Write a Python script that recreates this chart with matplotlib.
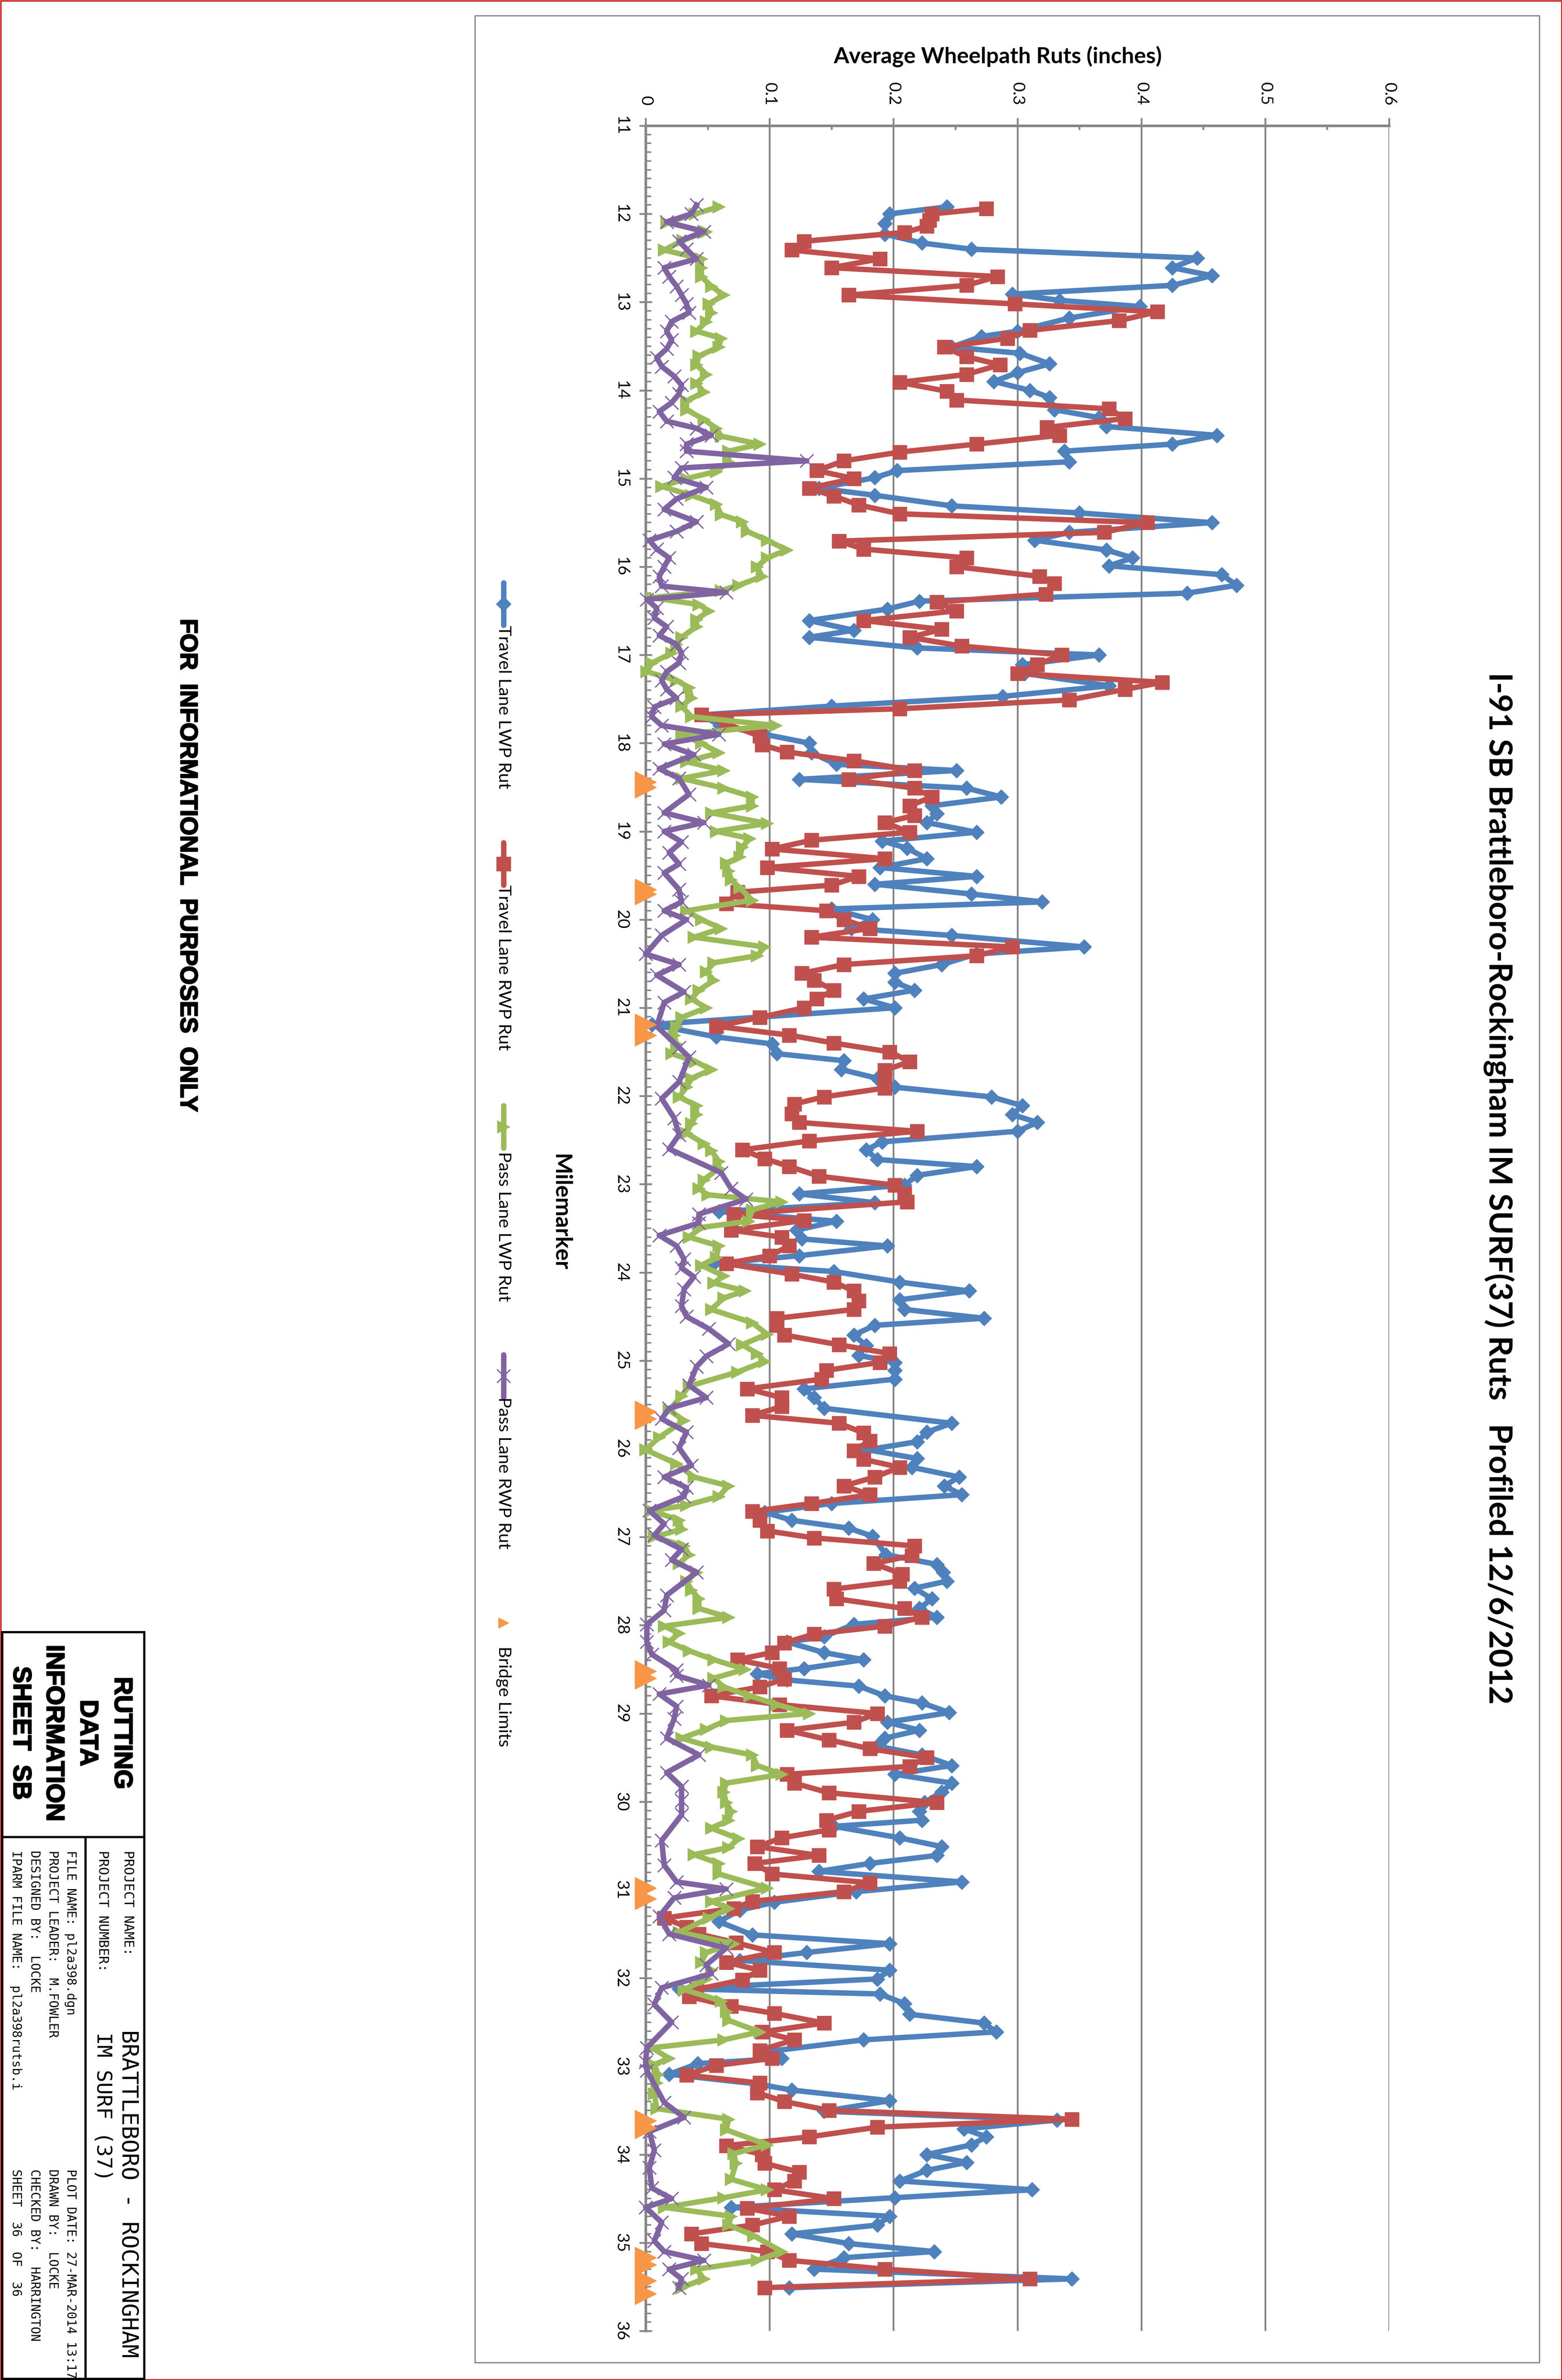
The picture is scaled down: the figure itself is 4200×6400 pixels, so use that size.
import matplotlib
matplotlib.use("Agg")
import matplotlib.pyplot as plt
import matplotlib.patheffects as pe
from matplotlib.lines import Line2D
from matplotlib.patches import Rectangle
from matplotlib.transforms import Affine2D
import numpy as np

W, H = 4200, 6400

# ---- data ----
travelLwpMile = [11.92, 12.00, 12.11, 12.23, 12.33, 12.40, 12.50, 12.61, 12.70, 12.81,
                 12.91, 12.98, 13.05, 13.18, 13.33, 13.39, 13.51, 13.58, 13.70, 13.80,
                 13.90, 14.00, 14.08, 14.22, 14.31, 14.41, 14.51, 14.61, 14.69, 14.81,
                 14.91, 14.99, 15.11, 15.19, 15.31, 15.39, 15.50, 15.61, 15.70, 15.81,
                 15.90, 15.99, 16.09, 16.21, 16.30, 16.39, 16.48, 16.61, 16.72, 16.80,
                 16.92, 17.00, 17.11, 17.21, 17.35, 17.47, 17.58, 17.68, 17.80, 17.90,
                 18.00, 18.11, 18.24, 18.31, 18.41, 18.51, 18.61, 18.71, 18.80, 18.90,
                 19.01, 19.11, 19.19, 19.31, 19.41, 19.51, 19.60, 19.71, 19.80, 19.88,
                 20.00, 20.10, 20.18, 20.31, 20.39, 20.51, 20.61, 20.71, 20.80, 20.90,
                 21.00, 21.19, 21.33, 21.41, 21.52, 21.60, 21.70, 21.80, 21.90, 22.01,
                 22.11, 22.21, 22.30, 22.40, 22.52, 22.61, 22.72, 22.80, 22.90, 23.01,
                 23.11, 23.21, 23.31, 23.42, 23.52, 23.62, 23.70, 23.81, 23.90, 23.99,
                 24.11, 24.21, 24.31, 24.42, 24.52, 24.60, 24.71, 24.83, 24.94, 25.02,
                 25.11, 25.21, 25.32, 25.42, 25.54, 25.71, 25.81, 25.92, 26.01, 26.11,
                 26.21, 26.32, 26.42, 26.52, 26.62, 26.72, 26.81, 26.90, 26.99, 27.20,
                 27.31, 27.40, 27.50, 27.58, 27.70, 27.81, 27.91, 27.99, 28.13, 28.19,
                 28.31, 28.39, 28.49, 28.55, 28.62, 28.69, 28.80, 28.88, 28.99, 29.10,
                 29.19, 29.28, 29.37, 29.47, 29.59, 29.69, 29.79, 29.89, 30.01, 30.11,
                 30.21, 30.28, 30.41, 30.51, 30.61, 30.70, 30.79, 30.91, 31.02, 31.14,
                 31.23, 31.36, 31.51, 31.61, 31.71, 31.80, 31.91, 32.01, 32.12, 32.18,
                 32.29, 32.41, 32.51, 32.61, 32.70, 32.83, 32.91, 32.97, 33.09, 33.20,
                 33.27, 33.39, 33.51, 33.61, 33.71, 33.80, 33.89, 34.00, 34.09, 34.18,
                 34.30, 34.40, 34.49, 34.60, 34.70, 34.80, 34.90, 35.01, 35.10, 35.17,
                 35.30, 35.41, 35.51]
travelLwpRut = [.243, .197, .193, .193, .223, .263, .445, .425, .457, .425,
                .296, .334, .399, .342, .300, .271, .247, .302, .326, .300,
                .281, .310, .326, .330, .366, .372, .461, .425, .338, .342,
                .203, .185, .140, .185, .247, .350, .457, .342, .314, .372,
                .393, .374, .465, .477, .437, .221, .195, .132, .168, .132,
                .219, .366, .304, .306, .374, .288, .150, .045, .060, .096,
                .132, .134, .154, .251, .124, .259, .287, .231, .235, .227,
                .267, .191, .211, .227, .189, .267, .185, .263, .320, .150,
                .183, .166, .247, .354, .267, .239, .201, .201, .217, .176,
                .201, .005, .057, .102, .106, .160, .158, .187, .201, .279,
                .304, .296, .316, .300, .191, .178, .187, .267, .219, .209,
                .124, .185, .059, .154, .122, .126, .195, .124, .055, .152,
                .205, .261, .205, .209, .273, .185, .168, .178, .172, .201,
                .201, .201, .128, .136, .144, .247, .227, .219, .179, .219,
                .215, .253, .241, .255, .150, .096, .118, .164, .183, .194,
                .235, .240, .243, .217, .231, .221, .235, .168, .144, .114,
                .144, .176, .128, .090, .114, .172, .193, .223, .245, .195,
                .221, .193, .187, .223, .247, .201, .247, .239, .225, .221,
                .223, .152, .205, .239, .235, .181, .140, .255, .170, .104,
                .076, .059, .086, .197, .130, .076, .197, .187, .027, .189,
                .209, .213, .273, .283, .176, .100, .110, .042, .019, .090,
                .118, .197, .144, .332, .257, .275, .263, .227, .259, .227,
                .205, .312, .201, .069, .197, .187, .118, .164, .233, .160,
                .136, .344, .116]

travelRwpMile = [11.94, 12.00, 12.07, 12.14, 12.21, 12.31, 12.41, 12.51, 12.61, 12.71,
                 12.81, 12.92, 13.02, 13.11, 13.21, 13.32, 13.41, 13.51, 13.62, 13.71,
                 13.82, 13.91, 14.01, 14.11, 14.21, 14.32, 14.42, 14.51, 14.61, 14.70,
                 14.80, 14.91, 15.00, 15.11, 15.20, 15.30, 15.40, 15.50, 15.61, 15.71,
                 15.80, 15.90, 16.00, 16.11, 16.19, 16.31, 16.40, 16.50, 16.61, 16.71,
                 16.80, 16.90, 17.00, 17.11, 17.21, 17.31, 17.39, 17.51, 17.61, 17.68,
                 17.78, 17.92, 18.02, 18.10, 18.20, 18.31, 18.41, 18.51, 18.61, 18.71,
                 18.82, 18.90, 19.01, 19.10, 19.20, 19.31, 19.41, 19.51, 19.61, 19.69,
                 19.82, 19.90, 20.00, 20.10, 20.20, 20.31, 20.41, 20.51, 20.61, 20.69,
                 20.80, 20.90, 21.00, 21.11, 21.21, 21.31, 21.40, 21.50, 21.61, 21.71,
                 21.81, 21.91, 22.01, 22.09, 22.20, 22.30, 22.40, 22.51, 22.61, 22.71,
                 22.80, 22.91, 23.01, 23.11, 23.20, 23.34, 23.41, 23.52, 23.60, 23.70,
                 23.81, 23.90, 24.02, 24.11, 24.21, 24.32, 24.42, 24.52, 24.60, 24.71,
                 24.82, 24.92, 25.02, 25.11, 25.21, 25.32, 25.42, 25.52, 25.62, 25.71,
                 25.82, 25.91, 26.02, 26.12, 26.21, 26.32, 26.42, 26.52, 26.62, 26.71,
                 26.81, 26.93, 27.01, 27.10, 27.21, 27.30, 27.42, 27.50, 27.59, 27.70,
                 27.81, 27.91, 28.01, 28.10, 28.20, 28.31, 28.39, 28.49, 28.61, 28.70,
                 28.80, 28.90, 29.00, 29.10, 29.19, 29.30, 29.40, 29.50, 29.60, 29.69,
                 29.79, 29.90, 30.01, 30.11, 30.21, 30.32, 30.41, 30.51, 30.61, 30.70,
                 30.82, 30.92, 31.02, 31.13, 31.21, 31.32, 31.42, 31.50, 31.60, 31.71,
                 31.82, 31.91, 32.02, 32.13, 32.21, 32.32, 32.40, 32.51, 32.61, 32.70,
                 32.82, 32.91, 32.99, 33.10, 33.19, 33.30, 33.40, 33.50, 33.60, 33.69,
                 33.80, 33.90, 34.00, 34.10, 34.20, 34.30, 34.40, 34.50, 34.61, 34.70,
                 34.80, 34.90, 35.01, 35.10, 35.20, 35.30, 35.41, 35.51]
travelRwpRut = [.275, .231, .229, .227, .209, .128, .118, .189, .150, .284,
                .259, .164, .298, .413, .382, .310, .292, .241, .259, .286,
                .259, .205, .243, .251, .374, .387, .324, .334, .267, .205,
                .160, .138, .168, .132, .152, .172, .205, .405, .370, .156,
                .176, .259, .251, .318, .330, .323, .235, .251, .176, .239,
                .213, .255, .336, .316, .300, .417, .387, .342, .205, .045,
                .065, .092, .094, .114, .168, .217, .164, .217, .231, .213,
                .217, .193, .213, .134, .102, .193, .098, .172, .150, .074,
                .065, .146, .160, .181, .134, .296, .267, .160, .126, .136,
                .152, .138, .128, .092, .057, .116, .152, .197, .213, .193,
                .193, .193, .144, .120, .118, .124, .219, .132, .078, .096,
                .116, .140, .201, .209, .211, .071, .128, .069, .110, .116,
                .100, .065, .118, .152, .168, .172, .168, .106, .106, .112,
                .156, .197, .189, .146, .142, .082, .110, .110, .086, .156,
                .176, .181, .168, .176, .205, .185, .160, .181, .134, .086,
                .092, .098, .136, .217, .215, .184, .207, .205, .152, .154,
                .209, .223, .193, .136, .112, .102, .074, .108, .112, .092,
                .053, .108, .187, .168, .114, .148, .181, .227, .213, .114,
                .120, .148, .235, .172, .146, .148, .110, .090, .140, .088,
                .102, .181, .160, .086, .071, .015, .033, .043, .073, .104,
                .065, .092, .078, .041, .035, .069, .104, .144, .094, .120,
                .092, .102, .057, .033, .092, .090, .112, .148, .344, .187,
                .132, .065, .094, .096, .124, .120, .104, .152, .082, .116,
                .086, .037, .045, .098, .116, .193, .310, .096]

passLwpMile = [11.92, 12.00, 12.10, 12.20, 12.30, 12.41, 12.51, 12.61, 12.71, 12.82,
               12.92, 13.02, 13.12, 13.22, 13.33, 13.41, 13.51, 13.61, 13.71, 13.82,
               13.92, 14.02, 14.12, 14.22, 14.33, 14.43, 14.52, 14.61, 14.69, 14.81,
               14.92, 15.00, 15.09, 15.19, 15.29, 15.41, 15.49, 15.60, 15.70, 15.81,
               15.90, 16.00, 16.11, 16.21, 16.27, 16.35, 16.43, 16.50, 16.60, 16.68,
               16.80, 16.88, 16.98, 17.09, 17.19, 17.29, 17.37, 17.49, 17.58, 17.70,
               17.80, 17.90, 18.00, 18.11, 18.21, 18.31, 18.40, 18.51, 18.61, 18.71,
               18.79, 18.91, 19.00, 19.08, 19.18, 19.29, 19.36, 19.45, 19.55, 19.64,
               19.78, 19.90, 20.00, 20.10, 20.20, 20.31, 20.41, 20.49, 20.59, 20.69,
               20.80, 20.90, 21.00, 21.11, 21.21, 21.31, 21.41, 21.52, 21.61, 21.70,
               21.80, 21.90, 22.01, 22.11, 22.21, 22.31, 22.42, 22.54, 22.62, 22.74,
               22.82, 22.95, 23.05, 23.12, 23.20, 23.29, 23.42, 23.49, 23.60, 23.70,
               23.83, 23.92, 24.04, 24.12, 24.21, 24.29, 24.42, 24.57, 24.70, 24.82,
               24.92, 25.01, 25.13, 25.29, 25.40, 25.56, 25.68, 25.87, 26.01, 26.17,
               26.32, 26.42, 26.54, 26.64, 26.70, 26.81, 26.91, 27.00, 27.10, 27.20,
               27.30, 27.40, 27.50, 27.60, 27.70, 27.81, 27.91, 28.01, 28.09, 28.19,
               28.29, 28.39, 28.50, 28.60, 28.70, 28.80, 28.90, 29.00, 29.08, 29.18,
               29.28, 29.38, 29.47, 29.59, 29.69, 29.79, 29.89, 30.01, 30.11, 30.21,
               30.30, 30.42, 30.52, 30.60, 30.70, 30.82, 30.98, 31.13, 31.21, 31.32,
               31.48, 31.61, 31.71, 31.82, 31.91, 32.01, 32.13, 32.26, 32.38, 32.48,
               32.61, 32.70, 32.79, 32.91, 32.98, 33.09, 33.19, 33.31, 33.48, 33.60,
               33.72, 33.89, 33.99, 34.10, 34.28, 34.40, 34.49, 34.60, 34.70, 34.80,
               34.92, 35.10, 35.20, 35.30, 35.41, 35.51]
passLwpRut = [.059, .040, .017, .049, .030, .015, .045, .045, .045, .053,
              .063, .051, .053, .049, .041, .061, .059, .043, .041, .049,
              .041, .047, .033, .033, .047, .057, .061, .092, .067, .067,
              .057, .033, .013, .037, .057, .061, .078, .082, .098, .114,
              .098, .090, .094, .075, .061, .005, .043, .051, .041, .041,
              .029, .025, .021, .005, .001, .025, .035, .037, .029, .037,
              .105, .029, .045, .059, .033, .063, .029, .063, .086, .086,
              .053, .098, .057, .084, .078, .076, .065, .067, .069, .076,
              .086, .033, .045, .061, .039, .096, .090, .055, .049, .055,
              .043, .037, .049, .029, .025, .023, .025, .021, .040, .053,
              .037, .033, .027, .041, .041, .037, .033, .047, .053, .059,
              .059, .047, .043, .050, .110, .086, .083, .045, .035, .059,
              .057, .045, .063, .055, .080, .063, .053, .086, .098, .078,
              .090, .096, .074, .035, .029, .019, .031, .011, .000, .025,
              .039, .067, .059, .033, .005, .027, .029, .007, .031, .035,
              .027, .041, .033, .037, .043, .043, .067, .015, .027, .019,
              .035, .055, .080, .055, .063, .084, .106, .132, .065, .049,
              .029, .053, .086, .090, .110, .065, .063, .065, .069, .067,
              .053, .075, .067, .039, .059, .059, .098, .053, .067, .051,
              .027, .071, .049, .045, .053, .049, .031, .061, .065, .067,
              .092, .063, .005, .019, .007, .010, .009, .007, .009, .067,
              .065, .098, .071, .073, .069, .098, .063, .015, .069, .067,
              .087, .110, .090, .041, .047, .029]

passRwpMile = [11.90, 12.00, 12.09, 12.20, 12.31, 12.40, 12.51, 12.61, 12.71, 12.82,
               12.92, 13.02, 13.12, 13.22, 13.33, 13.43, 13.53, 13.63, 13.73, 13.84,
               13.94, 14.04, 14.14, 14.24, 14.35, 14.43, 14.51, 14.61, 14.69, 14.80,
               14.88, 14.99, 15.10, 15.23, 15.35, 15.49, 15.60, 15.70, 15.80, 15.90,
               16.00, 16.11, 16.22, 16.29, 16.37, 16.47, 16.58, 16.68, 16.78, 16.88,
               16.98, 17.09, 17.19, 17.29, 17.39, 17.49, 17.59, 17.70, 17.80, 17.90,
               18.01, 18.13, 18.29, 18.40, 18.58, 18.79, 18.90, 19.00, 19.12, 19.24,
               19.37, 19.47, 19.66, 19.80, 19.90, 20.00, 20.18, 20.39, 20.51, 20.63,
               20.82, 20.94, 21.21, 21.45, 21.56, 21.84, 22.03, 22.25, 22.44, 22.60,
               22.87, 23.05, 23.17, 23.34, 23.44, 23.58, 23.70, 23.85, 23.95, 24.05,
               24.19, 24.38, 24.50, 24.64, 24.81, 24.95, 25.07, 25.28, 25.42, 25.54,
               25.66, 25.81, 25.99, 26.19, 26.32, 26.44, 26.54, 26.70, 26.85, 26.98,
               27.14, 27.26, 27.40, 27.66, 27.83, 27.99, 28.19, 28.33, 28.51, 28.57,
               28.68, 28.78, 28.92, 29.06, 29.28, 29.47, 29.67, 29.83, 29.99, 30.15,
               30.44, 30.72, 30.91, 30.99, 31.09, 31.30, 31.50, 31.66, 31.85, 31.95,
               32.11, 32.30, 32.50, 32.79, 32.95, 33.05, 33.41, 33.58, 33.74, 33.95,
               34.15, 34.38, 34.50, 34.60, 34.77, 34.98, 35.10, 35.20, 35.30, 35.41,
               35.51]
passRwpRut = [.041, .037, .017, .047, .027, .033, .041, .015, .019, .025,
              .029, .033, .035, .021, .017, .021, .017, .009, .013, .023,
              .029, .027, .021, .011, .017, .041, .053, .033, .033, .130,
              .029, .023, .049, .025, .015, .041, .025, .003, .009, .019,
              .015, .011, .013, .065, .001, .009, .007, .017, .011, .025,
              .029, .027, .017, .013, .017, .025, .007, .005, .013, .059,
              .015, .039, .011, .027, .035, .015, .047, .015, .029, .019,
              .027, .015, .027, .029, .015, .033, .013, .000, .027, .009,
              .031, .015, .009, .027, .035, .027, .013, .023, .027, .019,
              .061, .069, .081, .043, .043, .011, .025, .031, .029, .039,
              .031, .029, .033, .051, .067, .049, .041, .035, .049, .019,
              .013, .033, .027, .037, .015, .033, .031, .003, .015, .007,
              .029, .021, .041, .017, .015, .001, .001, .005, .025, .025,
              .051, .011, .025, .023, .017, .043, .017, .029, .029, .029,
              .013, .015, .025, .065, .023, .011, .019, .065, .049, .053,
              .013, .007, .021, .001, .000, .001, .015, .031, .003, .007,
              .003, .005, .021, .000, .013, .007, .015, .047, .019, .029,
              .027]

bridgeMile = [18.44, 18.50, 19.66, 19.71, 21.19, 21.31, 25.58, 25.66, 28.52, 28.60,
              30.98, 31.10, 33.62, 33.70, 35.17, 35.25, 35.43, 35.58]
bridgeRut = [0.0] * len(bridgeMile)

rutTicks = [0, 0.1, 0.2, 0.3, 0.4, 0.5, 0.6]
rutTickLabels = ["0", "0.1", "0.2", "0.3", "0.4", "0.5", "0.6"]
mileTicks = list(range(11, 37))

seriesNames = ["Travel Lane LWP Rut", "Travel Lane RWP Rut",
               "Pass Lane LWP Rut", "Pass Lane RWP Rut", "Bridge Limits"]

# ---- styling ----
BLUE, RED, GREEN, PURPLE, ORANGE = "#4F81BD", "#C0504D", "#9BBB59", "#8064A2", "#F79646"
GREY = "#868686"
FONT = "Lato"
heavy = [pe.withStroke(linewidth=2.2, foreground="black")]

fig = plt.figure(figsize=(W / 100, H / 100), dpi=100, facecolor="white")
pxT = Affine2D().scale(1.0 / W, -1.0 / H).translate(0, 1) + fig.transFigure

# plot area: rut 0..0.6 -> x 1736..3735 px, mile 11..36 -> y 338..6268 px
ax = fig.add_axes([1736 / W, 1 - 6268 / H, (3735 - 1736) / W, (6268 - 338) / H])
ax.set_xlim(0, 0.6)
ax.set_ylim(36, 11)

ax.plot(travelLwpRut, travelLwpMile, color=BLUE, lw=10.5, marker="D", ms=20,
        solid_joinstyle="round", clip_on=False, zorder=3)
ax.plot(travelRwpRut, travelRwpMile, color=RED, lw=10.5, marker="s", ms=27,
        solid_joinstyle="round", clip_on=False, zorder=4)
ax.plot(passLwpRut, passLwpMile, color=GREEN, lw=10.5, marker=">", ms=24,
        solid_joinstyle="round", clip_on=False, zorder=5)
ax.plot(passRwpRut, passRwpMile, color=PURPLE, lw=10.5, marker="x", ms=26, mew=2.5,
        solid_joinstyle="round", clip_on=False, zorder=6)
ax.plot(bridgeRut, bridgeMile, ls="none", color=ORANGE, marker=">", ms=42,
        clip_on=False, zorder=7)

for side in ["right", "bottom"]:
    ax.spines[side].set_visible(False)
for side in ["top", "left"]:
    ax.spines[side].set_color(GREY)
    ax.spines[side].set_linewidth(5)
    ax.spines[side].set_zorder(2)

ax.xaxis.tick_top()
ax.set_xticks(rutTicks)
ax.set_xticks([0.05, 0.15, 0.25, 0.35, 0.45, 0.55], minor=True)
ax.set_xticklabels(rutTickLabels, rotation=-90, fontsize=32, family=FONT)
ax.set_yticks(mileTicks)
ax.set_yticks(np.arange(11, 36.01, 0.1), minor=True)
ax.set_yticklabels([str(m) for m in mileTicks], rotation=-90, va="center",
                   fontsize=32, family=FONT)
ax.tick_params(axis="x", which="major", direction="out", length=15, width=3.5,
               color=GREY, pad=24)
ax.tick_params(axis="x", which="minor", direction="in", length=8, width=3.5, color=GREY)
ax.tick_params(axis="y", which="major", direction="inout", length=24, width=3.5,
               color=GREY, pad=20)
ax.tick_params(axis="y", which="minor", direction="in", length=11, width=3, color=GREY)
ax.grid(axis="x", which="major", color=GREY, lw=3.5)
ax.set_axisbelow(True)

# ---- chart texts ----
fig.text(2683, 152, "Average Wheelpath Ruts (inches)", transform=pxT, ha="center",
         va="center", fontsize=43, fontweight="bold", family=FONT)
fig.text(1507, 3260, "Milemarker", transform=pxT, ha="center", va="center",
         rotation=-90, fontsize=44, fontweight="bold", family=FONT)
fig.text(4030, 3195, "I-91 SB Brattleboro-Rockingham IM SURF(37) Ruts   Profiled 12/6/2012",
         transform=pxT, ha="center", va="center", rotation=-90, fontsize=62,
         fontweight="bold", family=FONT)

# legend (drawn by hand, rotated like the rest of the sheet)
legX = 1354
legY = [1624, 2323, 3030, 3700, 4364]
legTextY = [1682, 2380, 3097, 3757, 4427]
legStyle = [(BLUE, "D", 20, 1), (RED, "s", 27, 1), (GREEN, ">", 24, 1),
            (PURPLE, "x", 26, 2.5)]
for i, (col, mk, size, mew) in enumerate(legStyle):
    fig.add_artist(Line2D([legX, legX], [legY[i] - 57, legY[i] + 57], transform=pxT,
                          color=col, lw=10.5, solid_capstyle="round"))
    fig.add_artist(Line2D([legX], [legY[i]], transform=pxT, color=col, marker=mk,
                          ms=size, mew=mew))
fig.add_artist(Line2D([legX], [legY[4]], transform=pxT, color=ORANGE, marker=">", ms=20,
                      ls="none"))
for i, name in enumerate(seriesNames):
    fig.text(legX, legTextY[i], name, transform=pxT, ha="center", va="top",
             rotation=-90, fontsize=34, family=FONT)

# chart area frame and page border
fig.add_artist(Rectangle((1277, 42), 4139 - 1277, 6353 - 42, transform=pxT, fill=False,
                         edgecolor=GREY, lw=2.5))
fig.add_artist(Rectangle((1.5, 1.5), W - 3, H - 3, transform=pxT, fill=False,
                         edgecolor="#C00000", lw=2.5))

fig.text(503, 2327, "FOR  INFORMATIONAL  PURPOSES  ONLY", transform=pxT, ha="center",
         va="center", rotation=-90, fontsize=47, fontweight="bold",
         family="Liberation Sans", path_effects=heavy)

# ---- title block ----
for xs, ys in [([6, 388], [4389, 4389]), ([388, 388], [4389, 6400]),
               ([6, 6], [4389, 6400]), ([6, 388], [4940, 4940]),
               ([230, 230], [4940, 6400]), ([6, 388], [6397, 6397])]:
    fig.add_artist(Line2D(xs, ys, transform=pxT, color="black", lw=4.3))

for x, s in [(327, "RUTTING"), (235, "DATA"), (144, "INFORMATION"), (55, "SHEET  SB")]:
    fig.text(x, 4660, s, transform=pxT, ha="center", va="center", rotation=-90,
             fontsize=49, fontweight="bold", family="Liberation Sans", path_effects=heavy)

MONO = "DejaVu Sans Mono"
fig.text(344, 4976, "PROJECT NAME:", transform=pxT, ha="center", va="top",
         rotation=-90, fontsize=26, family=MONO)
fig.text(276, 4976, "PROJECT NUMBER:", transform=pxT, ha="center", va="top",
         rotation=-90, fontsize=26, family=MONO)
fig.text(344, 5458, "BRATTLEBORO - ROCKINGHAM", transform=pxT, ha="center", va="top",
         rotation=-90, fontsize=44, family=MONO)
fig.text(276, 5465, "IM SURF (37)", transform=pxT, ha="center", va="top",
         rotation=-90, fontsize=40, family=MONO)

leftCol = ["FILE NAME: pl2a398.dgn", "PROJECT LEADER:  M.FOWLER",
           "DESIGNED BY:  LOCKE", "IPARM FILE NAME:  pl2a398rutsb.i"]
rightCol = ["PLOT DATE: 27-MAR-2014 13:17", "DRAWN BY:  LOCKE",
            "CHECKED BY:  HARRINGTON", "SHEET  36  OF  36"]
for x, a, b in zip([189, 141, 92, 42], leftCol, rightCol):
    fig.text(x, 4976, a, transform=pxT, ha="center", va="top", rotation=-90,
             fontsize=24, family=MONO)
    fig.text(x, 5833, b, transform=pxT, ha="center", va="top", rotation=-90,
             fontsize=24, family=MONO)

fig.savefig("out.png", dpi=100, facecolor="white")
